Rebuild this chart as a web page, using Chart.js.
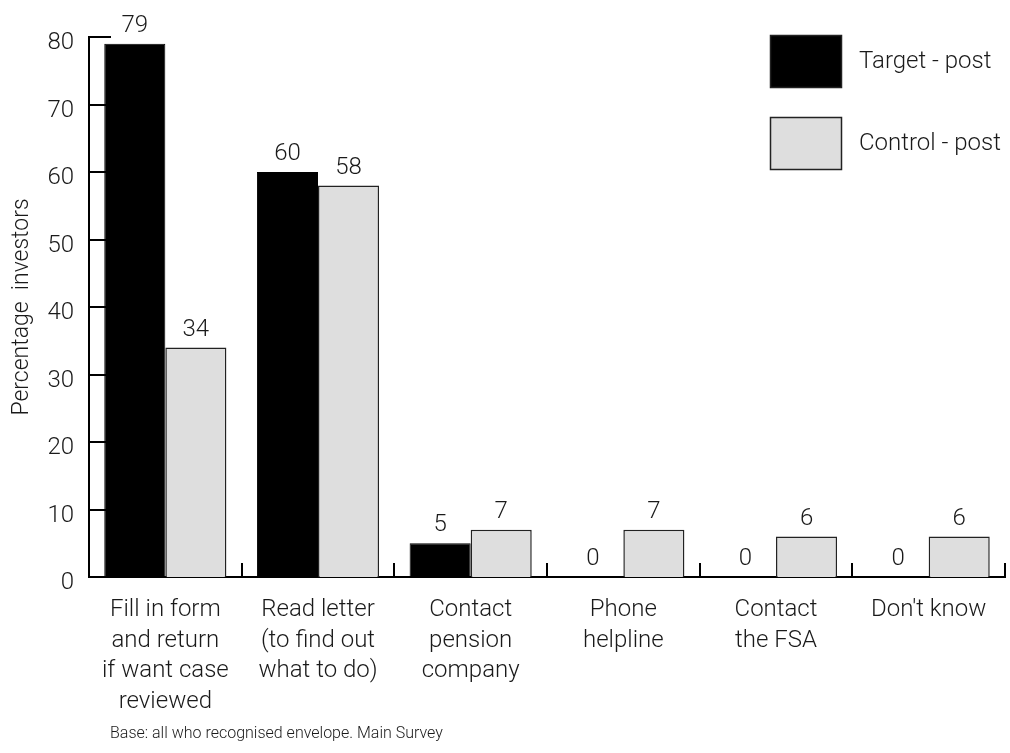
<!DOCTYPE html>
<html>
<head>
<meta charset="utf-8">
<script src="https://cdn.jsdelivr.net/npm/chart.js@4.4.1/dist/chart.umd.min.js"></script>
<style>
  html, body { margin: 0; padding: 0; background: #fff; }
  #wrap { width: 1010px; height: 753px; position: relative; }
</style>
</head>
<body>
<div id="wrap"><canvas id="c" width="1010" height="753"></canvas></div>
<script>
// Actions taken after receiving the letter (% of investors)
const categories = [
  ["Fill in form", "and return", "if want case", "reviewed"],
  ["Read letter", "(to find out", "what to do)"],
  ["Contact", "pension", "company"],
  ["Phone", "helpline"],
  ["Contact", "the FSA"],
  ["Don't know"]
];
const targetPost = [79, 60, 5, 0, 0, 0];
const controlPost = [34, 58, 7, 7, 6, 6];
const seriesNames = ["Target - post", "Control - post"];
const yTicks = [0, 10, 20, 30, 40, 50, 60, 70, 80];
const yTitle = "Percentage  investors";
const footnote = "Base: all who recognised envelope. Main Survey";

const FONT = "Roboto, 'Liberation Sans', sans-serif";
const WEIGHT = 300;
const TEXT = "#1a1a1a";

// Inward tick marks on both axes, drawn under the bars
const axisTicks = {
  id: 'axisTicks',
  beforeDatasetsDraw(chart) {
    const { ctx, chartArea, scales } = chart;
    ctx.save();
    ctx.strokeStyle = '#000';
    ctx.lineWidth = 2;
    yTicks.forEach(v => {
      const y = Math.round(scales.y.getPixelForValue(v));
      ctx.beginPath();
      ctx.moveTo(chartArea.left, y);
      ctx.lineTo(chartArea.left + 22, y);
      ctx.stroke();
    });
    const n = categories.length;
    for (let i = 1; i <= n; i++) {
      const x = Math.round(scales.x.getPixelForValue(i - 0.5));
      ctx.beginPath();
      ctx.moveTo(x, chartArea.bottom);
      ctx.lineTo(x, chartArea.bottom - 14);
      ctx.stroke();
    }
    ctx.restore();
  }
};

// Value labels above each bar
const valueLabels = {
  id: 'valueLabels',
  afterDatasetsDraw(chart) {
    const { ctx } = chart;
    ctx.save();
    ctx.font = WEIGHT + " 24px " + FONT;
    ctx.fillStyle = TEXT;
    ctx.textAlign = 'center';
    ctx.textBaseline = 'bottom';
    chart.data.datasets.forEach((ds, di) => {
      chart.getDatasetMeta(di).data.forEach((el, i) => {
        ctx.fillText(String(ds.data[i]), el.x, el.y - 6);
      });
    });
    ctx.restore();
  }
};

// Legend boxes at top right and the base note under the chart
const sideLegend = {
  id: 'sideLegend',
  afterDraw(chart) {
    const { ctx } = chart;
    ctx.save();
    const boxX = 770, boxW = 71, boxH = 52;
    const rows = [35, 117];
    chart.data.datasets.forEach((ds, i) => {
      const y = rows[i];
      ctx.fillStyle = ds.backgroundColor;
      ctx.fillRect(boxX, y, boxW, boxH);
      ctx.strokeStyle = '#222';
      ctx.lineWidth = 1.5;
      ctx.strokeRect(boxX + 0.5, y + 0.5, boxW, boxH);
      ctx.fillStyle = TEXT;
      ctx.font = WEIGHT + " 24px " + FONT;
      ctx.textAlign = 'left';
      ctx.textBaseline = 'middle';
      ctx.fillText(ds.label, 859, y + boxH / 2 + 1);
    });
    ctx.font = WEIGHT + " 16px " + FONT;
    ctx.textAlign = 'left';
    ctx.textBaseline = 'middle';
    ctx.fillStyle = TEXT;
    ctx.fillText(footnote, 110, 734);
    ctx.restore();
  }
};

new Chart(document.getElementById('c'), {
  type: 'bar',
  data: {
    labels: categories,
    datasets: [
      { label: seriesNames[0], data: targetPost, backgroundColor: '#000000', borderColor: '#000000', borderWidth: 1 },
      { label: seriesNames[1], data: controlPost, backgroundColor: '#dedede', borderColor: '#222222', borderWidth: 1.5 }
    ]
  },
  options: {
    responsive: false,
    animation: false,
    devicePixelRatio: 1,
    layout: { padding: { top: 37, right: 5, bottom: 0, left: 0 } },
    datasets: { bar: { categoryPercentage: 0.80, barPercentage: 1 } },
    plugins: { legend: { display: false }, tooltip: { enabled: false } },
    scales: {
      x: {
        grid: { display: false, drawTicks: false },
        border: { display: true, color: '#000', width: 2 },
        ticks: {
          color: TEXT,
          font: { family: FONT, size: 24, weight: WEIGHT, lineHeight: 1.27 },
          padding: 18,
          maxRotation: 0,
          autoSkip: false
        },
        afterFit(scale) { scale.height = 176; }
      },
      y: {
        min: 0,
        max: 80,
        grid: { display: false, drawTicks: false },
        border: { display: true, color: '#000', width: 2 },
        ticks: {
          stepSize: 10,
          color: TEXT,
          font: { family: FONT, size: 24, weight: WEIGHT },
          padding: 15,
          labelOffset: 6
        },
        title: {
          display: true,
          text: yTitle,
          color: TEXT,
          font: { family: FONT, size: 23, weight: WEIGHT },
          padding: { top: 8, bottom: 0 }
        },
        afterFit(scale) { scale.width = 89; }
      }
    }
  },
  plugins: [axisTicks, valueLabels, sideLegend]
});
</script>
</body>
</html>
